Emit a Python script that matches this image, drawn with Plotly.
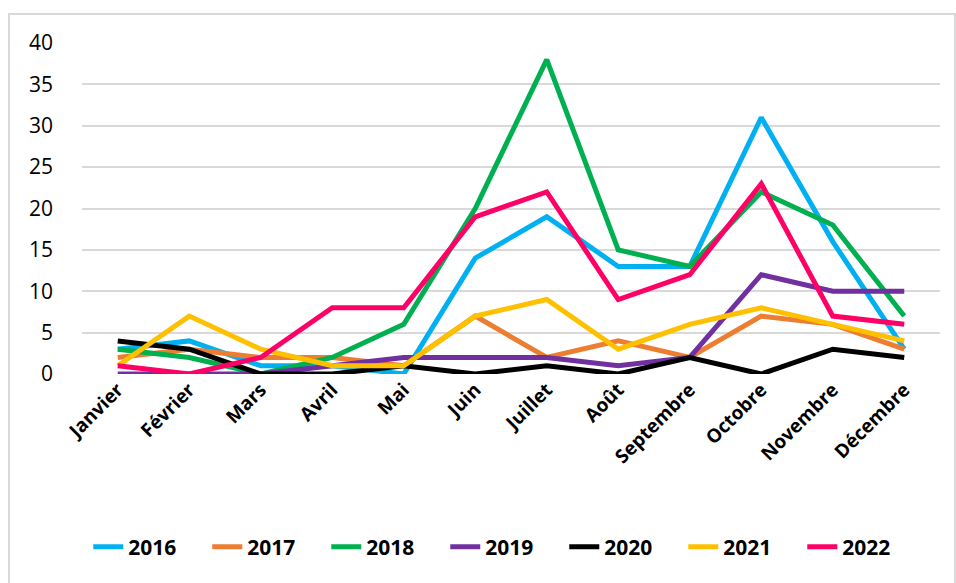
import plotly.graph_objects as go

months = ["Janvier", "Février", "Mars", "Avril", "Mai", "Juin", "Juillet", "Août",
          "Septembre", "Octobre", "Novembre", "Décembre"]
years = ["2016", "2017", "2018", "2019", "2020", "2021", "2022"]
colors = ["#00B0F0", "#ED7D31", "#00B050", "#7030A0", "#000000", "#FFC000", "#FF0066"]

v2016 = [3, 4, 1, 1, 0, 14, 19, 13, 13, 31, 16, 3]
v2017 = [2, 3, 2, 2, 1, 7, 2, 4, 2, 7, 6, 3]
v2018 = [3, 2, 0, 2, 6, 20, 38, 15, 13, 22, 18, 7]
v2019 = [0, 0, 0, 1, 2, 2, 2, 1, 2, 12, 10, 10]
v2020 = [4, 3, 0, 0, 1, 0, 1, 0, 2, 0, 3, 2]
v2021 = [1, 7, 3, 1, 1, 7, 9, 3, 6, 8, 6, 4]
v2022 = [1, 0, 2, 8, 8, 19, 22, 9, 12, 23, 7, 6]
series = [v2016, v2017, v2018, v2019, v2020, v2021, v2022]

fig = go.Figure()
for name, vals, col in zip(years, series, colors):
    fig.add_trace(go.Scatter(x=months, y=vals, name=name, mode="lines",
                             line=dict(color=col, width=5)))

FONT = "Open Sans, sans-serif"

fig.update_layout(
    width=956, height=583,
    margin=dict(l=82, r=16, t=43, b=209, autoexpand=False),
    paper_bgcolor="white", plot_bgcolor="white",
    font=dict(family=FONT, color="black"),
    showlegend=True,
    legend=dict(orientation="h", xref="container", yref="container",
                x=0.528, xanchor="center", y=(583 - 547) / 583, yanchor="middle",
                font=dict(family=FONT, size=21, color="black", weight="bold"),
                entrywidth=74, entrywidthmode="pixels",
                tracegroupgap=0, traceorder="normal"),
    xaxis=dict(type="category", tickangle=-45, showgrid=False, showline=False, ticks="",
               tickfont=dict(family=FONT, size=19, color="black", weight="bold"),
               range=[-0.5, 11.5]),
    yaxis=dict(range=[0, 40], dtick=5, showgrid=True, gridcolor="#D9D9D9", gridwidth=2,
               zeroline=False, showline=False, ticks="", ticklabelstandoff=28,
               tickfont=dict(family=FONT, size=21, color="black")),
    shapes=[dict(type="rect", xref="paper", yref="paper",
                 x0=(9 - 82) / 858, x1=(955 - 82) / 858,
                 y0=(374 - 600) / 331, y1=(374 - 14) / 331,
                 line=dict(color="#D9D9D9", width=2), fillcolor="rgba(0,0,0,0)", layer="below")],
)

fig.write_html("out.html")
